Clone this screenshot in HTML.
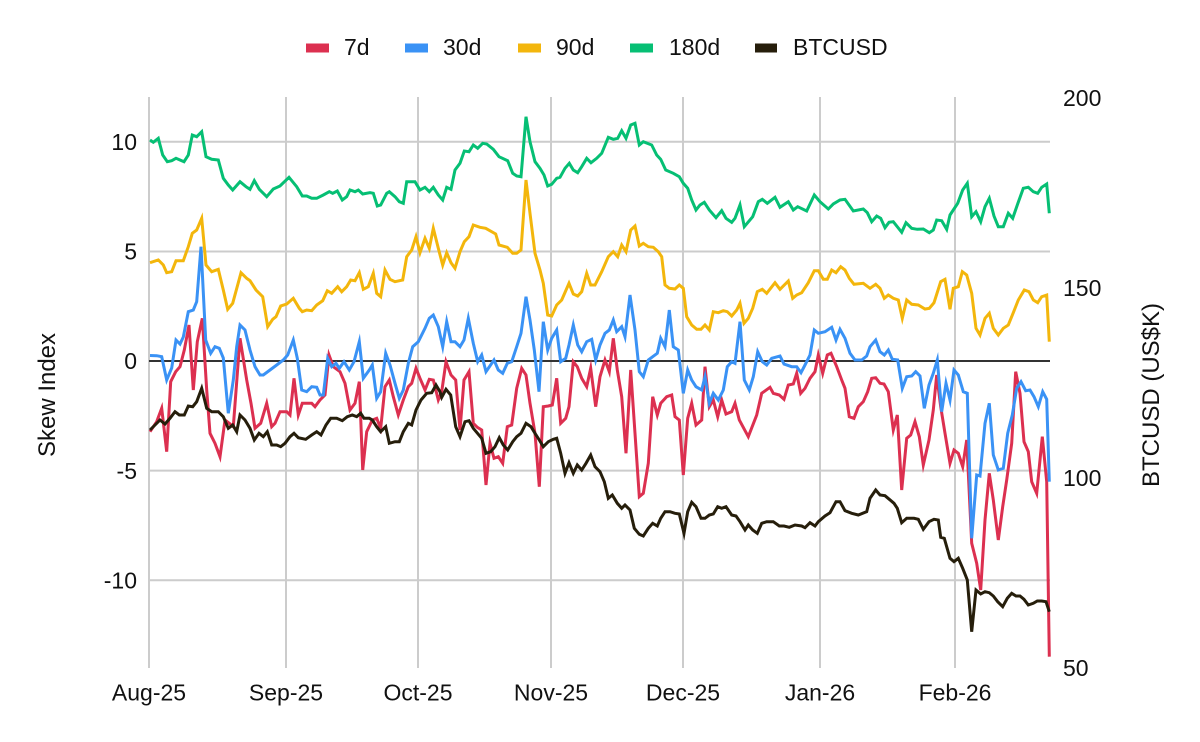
<!DOCTYPE html>
<html><head><meta charset="utf-8"><style>
html,body{margin:0;padding:0;background:#fff;}
svg{display:block;}
text{font-family:"Liberation Sans",Arial,sans-serif;fill:#111;}
</style></head><body>
<svg width="1200" height="742" viewBox="0 0 1200 742" xmlns="http://www.w3.org/2000/svg">
<rect width="1200" height="742" fill="#fff"/>
<!-- legend -->
<g font-size="23">
<rect x="306" y="43.5" width="23" height="9" fill="#dc3050"/><text x="344" y="55">7d</text>
<rect x="405" y="43.5" width="23" height="9" fill="#3a92f5"/><text x="443" y="55">30d</text>
<rect x="518" y="43.5" width="23" height="9" fill="#f3b60c"/><text x="556" y="55">90d</text>
<rect x="630" y="43.5" width="23" height="9" fill="#06bf74"/><text x="669" y="55">180d</text>
<rect x="755" y="43.5" width="22" height="9" fill="#261e0b"/><text x="793" y="55">BTCUSD</text>
</g>
<!-- grid -->
<g stroke="#cccccc" stroke-width="2" fill="none">
<line x1="149" y1="141.8" x2="1050" y2="141.8"/>
<line x1="149" y1="251.5" x2="1050" y2="251.5"/>
<line x1="149" y1="470.6" x2="1050" y2="470.6"/>
<line x1="149" y1="580.2" x2="1050" y2="580.2"/>
<line x1="149" y1="97" x2="149" y2="668"/>
<line x1="286" y1="97" x2="286" y2="668"/>
<line x1="418" y1="97" x2="418" y2="668"/>
<line x1="551" y1="97" x2="551" y2="668"/>
<line x1="683" y1="97" x2="683" y2="668"/>
<line x1="820" y1="97" x2="820" y2="668"/>
<line x1="955" y1="97" x2="955" y2="668"/>
</g>
<line x1="149" y1="361" x2="1050" y2="361" stroke="#333" stroke-width="2"/>
<!-- series -->
<g fill="none" stroke-width="3" stroke-linejoin="miter" stroke-miterlimit="6">
<polyline stroke="#dc3050" points="150,431.7 156.7,421.7 161.7,408.3 166.7,451.7 170.7,381.7 175.7,371.7 180,366.7 184.3,350 189,325 193.3,390 197.3,341.7 202.3,318.3 206.7,390 210,433.3 215,443.3 220,456.7 225,420 229.3,423.3 233.3,426.7 240,338.3 246.7,380 251,403.3 255,428.3 260.7,423.3 266.7,403.3 271.7,426.7 275,423.3 280,411.7 286.7,411.7 290,415 294,378.3 298.3,415 302.3,403.3 306.7,403.3 311.7,403.3 315,406.7 320,400 325,395 329,355 333.3,366.7 340,371.7 345,383.3 350,410 355,403.3 359.3,381.7 362.7,470 366.7,431.7 372.3,420 376.7,418.3 380.7,428.3 385,386.7 389.3,380 393.3,396.7 398.3,415 403.3,400 408.3,386.7 411.7,383.3 416,368.3 420,378.3 425,390 429.3,379.3 433.3,380 438.3,400 441.7,391.7 446,361.7 451,375 455.7,380 460,430 464,380 469,371.7 473.3,423.3 477.3,427.3 481.7,430 486,485 490,443.3 494,458.3 498.3,456.7 502.7,463.3 507.3,426.7 511.7,425 516.7,388.3 521.7,368.3 526,375 530,403.3 535,433.3 539.3,486.7 543.3,406.7 548.3,406 552.3,405 556.7,378.3 560.7,423.3 565.7,418.3 569,406.7 573.3,361.7 577.3,366.7 581.7,378.3 586.7,386.7 590.7,368.3 595.7,406.7 600,376.7 605,360 609.3,371.7 613.3,338.3 617.3,370 621.7,396.7 626,453.3 630.7,370 635,433.3 639.3,496.7 643.3,493.3 648.3,463.3 652.7,396.7 657.3,415 660.7,403.3 666.7,396.7 671.7,395 675,416.7 679.3,420 683.3,475 687.7,418.3 691.7,403.3 696,425 701.7,420 705,366.7 709.3,406.7 713.3,400 717.7,416.7 721.7,400 726,414 731.7,411.7 735,403.3 739.3,420 748.3,436.7 756.7,415 761.7,393.3 770,387.3 773.3,393.3 779.3,395 784,399.3 788.3,385 793.3,384 796.7,373.3 800.7,393.3 805,388.3 810,378.3 815,371.7 818.3,355 822.7,373.3 827.3,355 831,353.3 836.7,366.7 841.7,380 845,388.3 849.3,416.7 854,418.3 858.3,406.7 863.3,401.7 867.7,391.7 871.7,378.3 875.7,377.7 880,383.3 884,384 888.3,391.7 893.3,430 897.3,415 901.7,490 906.7,438.3 910.7,435 915,421.7 919.3,436.7 923.3,465 929,440 933.3,410 936.7,375 940.7,406.7 945,433.3 950,463.3 954,450 958.3,453.3 962.7,466.7 966.7,440 971.7,543.3 976.7,563.3 980.7,590 985,520 989.3,473.3 993.3,500 998.3,540 1002.7,506.7 1006.7,480 1011.7,443.3 1015.7,371.7 1020,393.3 1024,441.7 1028.3,451.7 1031.7,481.7 1036.7,493.3 1042.3,436.7 1046.7,481.7 1049.3,656.7"/>
<polyline stroke="#3a92f5" points="150,355.5 156.7,355.7 161.7,356.7 166.7,380 171.7,368 176,340 180,344 183.3,337 188.3,311.7 193.3,310 196.7,301.7 201,246.7 205.7,340 210.7,353.3 215,346.7 219.3,348.3 223.3,358 228.3,413.3 233.3,380 236.7,346.7 240,325 245,330 250,350 255,366.7 260,375 263.3,375 270,370 276.7,365 283.3,360 287.7,355 293.3,340 297.3,358.3 301.7,390 306.7,391.7 311.7,386.7 316.7,387.3 320,395 323.3,395 327.7,358.3 331.7,366.7 336,363.3 339.3,368.3 344,361.7 349.3,370 354,361.7 359.3,341.7 363.3,378.3 369.3,370 372.3,365 376.7,398.3 380.7,391.7 385.7,353.3 390,365 395,383.3 399.3,398.3 403.3,390 408.3,363.3 412.7,346.7 418.3,341.7 420,338.3 425,328.3 429.3,318.3 433.3,315 438.3,326.7 442.7,346.7 446.7,321.7 451,341.7 455,341.7 460,346.7 464,340 468.3,318.3 473.3,343.3 477.7,361.7 481.7,355 486,371.7 494,360 498.3,370 502.7,373.3 507.3,363.3 511.7,361.7 516.7,346.7 521,333.3 526,296.7 530,320 534.3,350 539,391.7 543.3,321.7 547.7,350 551.7,338.3 556.7,330 560.7,361.7 565.7,358.3 569,345 573.3,325 577.7,345 581.7,351.7 586.7,341.7 591.7,339.3 595.7,360 600,345 605,333.3 609.3,330 613.3,320 616.7,331.7 621.7,326.7 625,336.7 630,295 635,330 639.3,371.7 643.3,376.7 648.3,360 652.7,356.7 657.3,353.3 660.7,338.3 665,346.7 669.3,310 673.3,346.7 678.3,350 683.3,393.3 687.7,370 691.7,380 696,386.7 701.7,390 705,376.7 709.3,403.3 713.3,393.3 718.3,400 723.3,390 727.3,366.7 731.7,361.7 735,363.3 740,321.7 744.3,380 749.3,390 753.3,376.7 757.7,351.7 762.3,361.7 766.7,365 771.7,358.3 780,356 784,364 791.7,366.7 796.7,366.7 801,372.7 805,365 810,355 814.3,330 818.3,333.3 825,331.7 831.7,327.3 836,340 840,329.3 845,338.3 850,353.3 855,360 861.7,360 866.7,356 870,346.7 875.7,340 880,351.7 884.3,355 888.3,350 892.3,359.3 897.7,360 902.3,388.3 906.7,376.7 911.7,376 915.7,371.7 920,376 924.3,408.3 929,385 933.3,373.3 937.3,360 941.7,411.7 946,383.3 950,400 954,370 958.3,375 963.3,391.7 967.3,393.3 971.7,538.3 976.7,475 980,476 985,423.3 989.3,403.3 993.3,455 998.3,470 1003.3,468.3 1007.7,433.3 1012.3,415 1016.7,388.3 1021,381.7 1025.7,390.7 1030,390 1034,396.7 1038.3,406.7 1042.7,391.7 1046.7,399.3 1049.3,481.7"/>
<polyline stroke="#f3b60c" points="150,262.7 158.3,260 163.3,265 166.7,272.7 171.7,271.7 176,260.7 183.3,260.7 188.3,246.7 192.3,233.3 196.7,230 201.7,218.3 206,265 211.7,271.7 218.3,269.3 223.3,290 227.7,309.3 232.7,303.3 241,272.7 246.7,278.3 250,280.7 256,290 262.7,296.7 267.7,326.7 272.7,319.3 276,316.7 280.7,306 286.7,304 293.3,298.3 299.3,308.3 302.3,311.7 306.7,310 311.7,310.7 316.7,305 322.7,300.7 327.3,290.7 331.7,293.3 337.7,286.7 341.7,291.7 346.7,286.7 350.7,280 355,280.7 359.3,272.7 363.3,289.3 368.3,286.7 373.3,273.3 376.7,293.3 380.7,296.7 385,270 390,279.3 395,281.7 402.7,280 406.7,256.7 411.7,250 416,236.7 420,252.7 425,238.3 429.3,248.3 433.3,228.3 438.3,248.3 442.7,265 446.7,252.7 451,262.7 455,268.3 460,251.7 464.3,241.7 469,236.7 473.3,225 480,227.3 485.7,228.3 495.7,234 499,245 507.3,247.3 512.7,253.3 516.7,253.3 521,250 526,180 530,213.3 535,253.3 540,270 543.3,283.3 547.7,315 551.7,316 556.7,305 561.7,300 569,283.3 573.3,294 577.7,296 581.7,291.7 586.7,273.3 590.7,285 595,285 601.7,271.7 608.3,256.7 613.3,251.7 617.7,256.7 621.7,245 626,251.7 630.7,230 635,226 639.3,246 643.3,243.3 648.3,246.7 653.3,247.3 658.3,251.7 661.7,256.7 665,285 669.3,288.3 675,289 679.3,285 683.3,288.3 686.7,316.7 691.7,325 696.7,329.3 701,329.3 705,325 709.3,330 713.3,311.7 718.3,312.7 723.3,310.7 727.3,311.7 731.7,316 736.7,310 740,303.3 744,323.3 748.3,318.3 752.7,308.3 757.3,291.7 762.3,289.3 766.7,293.3 775,282.7 780,289.3 788.3,281 792.7,298.3 796.7,295 801.7,292.7 808.3,282.7 814.3,270.7 818.3,270.7 823.3,279.3 827.3,279.3 831.7,270 836,272.7 840.7,266.7 845,270 849.3,278.3 854,284.3 863.3,283.3 870,288.3 875.7,284.3 880,288.3 884.3,298.3 888.3,295 893.3,298.3 898.3,300 902.3,318.3 906.7,300 911.7,304.3 918.3,305 925,309 929.3,308.3 934,302.7 940.7,281.7 945,279.3 950,309.3 953.3,288.3 958.3,286.7 962.3,271.7 966.7,275 971.7,293.3 976,328.3 980,335 985,318.3 989.3,313.3 993.3,328.3 998.3,335 1003.3,328.3 1008.3,325 1013.3,312.7 1018.3,300 1024.3,290 1029,291.7 1033.3,300 1037.7,302.7 1041.7,296.7 1046.7,295 1049.3,341.7"/>
<polyline stroke="#06bf74" points="150,140 153.3,142.3 158.3,138.3 162.7,155 167.3,161.7 171.7,160.7 176,158.3 180,160 184,161.7 188.3,155 192.3,135 196.7,136.7 201.7,131.7 206,156.7 211.7,159.3 218.3,160 223.3,178.3 228.3,185 232.7,190 240,181.7 246,186.7 250,189.3 254.3,180.7 259.3,189.3 266.7,196.7 273.3,189 280,186 289,177.3 296.7,186.7 302.3,196 306.7,196 311.7,198.3 316.7,198.3 323.3,195 329.3,191.7 332.7,193.3 337.3,191 342.3,200 346.7,196.7 350,190 355,191.7 358.3,190 362.7,194 370,192.7 373.3,193.3 377.3,206 380.7,205 386.7,193.3 389.3,191.7 395,196.7 399.3,201.7 403.3,203.3 406.7,181.7 415,181.7 420,190 425,187.3 429.3,191.7 433.3,187.3 438.3,195 442.7,200 446.7,187.3 451,189.3 455,170 460,163.3 464.3,151 469,151.7 473.3,145 477.7,148.3 482.7,143.3 486.7,144 493.3,149.3 499,156.7 507.7,160.7 512.7,173.3 516.7,176 521,176.7 526,116.7 530,141.7 535,161.7 540,168.3 544,175 547.7,186 551.7,184.3 556.7,178.3 560,177.3 565,168.3 569.3,163.3 573.3,170 577.7,172.7 581.7,166.7 586.7,158.3 591,162.7 596.7,158.3 601.7,153.3 608.3,137.3 613.3,139.3 617.7,138.3 621.7,130.7 626,138.3 630.7,125 635,123.3 639.3,145 643.3,141.7 651.7,145 656.7,155 660.7,159.3 665.7,170 673.3,173.3 679.3,176.7 683.3,183.3 687.7,188.3 691.7,200 696,210 700,205 704.3,202.3 709.3,210 716,217.7 721.7,210.7 726,218.3 731.7,222.3 735,218.3 740,205 744.3,226.7 752.7,216.7 758.3,201.7 762.3,199.3 767.3,203.3 775,197.3 780,207.3 788.3,201.7 793.3,210 797.7,206.7 806.7,211 814.3,195 820,201.7 828.3,209 833.3,204 840,200 845,199.3 853.3,211 863.3,209 867.3,212.7 871.7,221.7 876.7,216 880.7,218.3 885,227.7 889,222.3 893.3,221.7 901.7,232.3 906,222.7 911.7,228.3 917.3,229.3 923.3,229 929.3,232.7 933.3,230 936.7,220 941.7,220.7 946.7,229.3 950,215 953.3,210 957.7,203.3 962.7,190 967.3,183.3 971.7,216.7 976,211.7 980.7,221.7 985,206.7 989.3,198.3 994,216 998.3,226.7 1003.3,226.7 1008.3,213.3 1012.7,218.3 1017.3,205 1023.3,188.3 1028.3,187.3 1033.3,191.7 1037.7,193.3 1041.7,187.3 1046.7,184 1049.3,213.3"/>
<polyline stroke="#261e0b" points="150,430 155,425 160,420 165,424 170,418.3 175,411.7 179.3,415 184.3,415 188.3,406 192.7,406.7 196.7,401.7 201.7,388.3 206.7,408.3 211.7,411.7 218.3,411.7 223.3,416.7 228.3,428.3 232.7,425 236.7,431.7 240,415 245,420 250,428.3 254.3,440 259,433.3 263.3,436.7 267.3,431.7 271.7,445 276.7,445 280.7,446.7 285,443.3 290,436.7 294,433.3 298.3,437.7 305.7,439.3 311.7,435 316.7,431.7 321,435 326,425 330.7,418.3 336.7,418.3 342.3,420.7 347.3,416.7 352.3,415 356.7,416.7 360.7,413.3 364,418.3 369.3,418.3 372.3,420 376.7,426.7 380.7,431.7 385.7,426.7 389.3,443.3 395,441.7 399.3,441.7 403.3,431.7 408.3,423.3 411.7,425 416,410 421,400 426.7,393.3 431.7,392.7 436,385 440,391.7 441.7,397.3 446,389.3 450.7,395 455.7,426.7 460,436.7 465,421.7 469,420.7 473.3,428.3 481.7,438.3 486,453.3 490.7,451.7 495,446.7 499.3,437.7 503.3,445 507.7,450 512.7,441.7 516.7,436.7 521,433.3 526,423.3 531,426.7 535,433.3 539.3,440 543.3,446.7 548.3,441.7 553.3,439.3 556.7,438.3 560.7,453.3 565,473.3 569,462.7 573.3,473.3 577.3,465 581.7,470 586,463.3 590.7,455 595,466.7 600,471.7 604.3,481.7 608.3,498.3 612.3,495 617.3,503.3 621.7,508.3 625,505 630,510 634.3,528.3 639.3,534.3 643.3,536 648.3,528.3 652.7,523.3 657.3,526 660.7,518.3 665,511.7 670,511.7 675,513.3 679.3,514 684,533.3 687.7,511.7 691.7,502.3 696,506.7 701,518.3 705,518.3 709.3,515 713.3,514 717.7,506.7 721.7,508.3 726,506.7 731.7,515 736,516 740,521.7 745,530 748.3,525 752.7,530 757.3,533.3 761.7,523.3 766.7,521.7 773.3,521.7 779.3,526 784,526 789.3,527.3 795,525 801.7,526 805,527.7 810,522.7 815,526 818.3,521.7 825,516 830,512.7 836,501.7 840,501.7 845,510.7 851.7,513.3 858.3,515 866.7,511.7 870,498.3 875.7,490 880,495 885,495.7 889.3,499.3 894,503.3 897.3,508.3 901.7,522.7 906.7,518.3 914,518.3 918.3,519.3 923.3,529.3 929,521.7 934,519.3 938.3,520 940.7,537.3 944.3,538.3 950,558.3 954,561.7 958.3,558.3 962.7,568.3 967.3,580 971.7,631.7 976,590 980.7,594 985,591.7 989.3,592.7 993.3,596 997.7,601.7 1002.7,606.7 1007.3,598.3 1011.7,593.3 1016,596 1020,596 1024,599.3 1028.3,605 1033.3,603.3 1037.3,601 1041.7,601 1046,601.7 1049.3,611.7"/>
</g>
<!-- left ticks -->
<g font-size="23" text-anchor="end">
<text x="137" y="150">10</text>
<text x="137" y="259.7">5</text>
<text x="137" y="369.2">0</text>
<text x="137" y="478.8">-5</text>
<text x="137" y="588.4">-10</text>
</g>
<!-- right ticks -->
<g font-size="23" text-anchor="start">
<text x="1063" y="106.2">200</text>
<text x="1063" y="296.2">150</text>
<text x="1063" y="486.2">100</text>
<text x="1063" y="676.2">50</text>
</g>
<!-- x labels -->
<g font-size="23" text-anchor="middle">
<text x="149" y="700.7">Aug-25</text>
<text x="286" y="700.7">Sep-25</text>
<text x="418" y="700.7">Oct-25</text>
<text x="551" y="700.7">Nov-25</text>
<text x="683" y="700.7">Dec-25</text>
<text x="820" y="700.7">Jan-26</text>
<text x="955" y="700.7">Feb-26</text>
</g>
<!-- axis titles -->
<text font-size="24" text-anchor="middle" transform="translate(55,395) rotate(-90)">Skew Index</text>
<text font-size="24" text-anchor="middle" transform="translate(1159,395) rotate(-90)">BTCUSD (US$K)</text>
</svg>
</body></html>
